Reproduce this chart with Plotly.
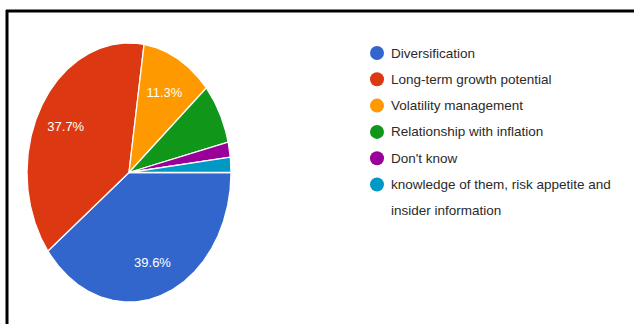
import math
import textwrap
import plotly.graph_objects as go

# Survey responses: why hold this asset class
categories = [
    "Diversification",
    "Long-term growth potential",
    "Volatility management",
    "Relationship with inflation",
    "Don't know",
    "knowledge of them, risk appetite and insider information",
]
counts = [21, 20, 6, 4, 1, 1]
colors = ["#3366CC", "#DC3912", "#FF9900", "#109618", "#990099", "#0099C6"]

W, H = 634, 324
total = sum(counts)

fig = go.Figure()

# Pie drawn as wedges on a unit-circle axis; the axis box gives it its oval shape.
cum = 0.0
for name, c, col in zip(categories, counts, colors):
    frac = c / total
    a0 = -2 * math.pi * cum
    a1 = -2 * math.pi * (cum + frac)
    n = max(8, int(abs(a1 - a0) / 0.01))
    xs, ys = [0.0], [0.0]
    for i in range(n + 1):
        a = a0 + (a1 - a0) * i / n
        xs.append(math.cos(a))
        ys.append(math.sin(a))
    xs.append(0.0)
    ys.append(0.0)
    fig.add_trace(go.Scatter(
        x=xs, y=ys, mode="lines", fill="toself", fillcolor=col,
        line=dict(color="white", width=1.3), hoverinfo="skip",
        showlegend=False, xaxis="x", yaxis="y",
    ))
    if frac >= 0.1:
        am = (a0 + a1) / 2
        fig.add_trace(go.Scatter(
            x=[0.72 * math.cos(am)], y=[0.72 * math.sin(am) - 0.02], mode="text",
            text=[f"{frac * 100:.1f}%"],
            textfont=dict(family="Liberation Sans, Arial", size=13, color="white"),
            hoverinfo="skip", showlegend=False, xaxis="x", yaxis="y",
        ))
    cum += frac

# Legend in pixel coordinates on an overlay axis
leg_x, leg_y0, leg_step = 377, 53, 26.3
row = 0
for name, col in zip(categories, colors):
    y = leg_y0 + row * leg_step
    fig.add_trace(go.Scatter(
        x=[leg_x], y=[y], mode="markers",
        marker=dict(size=14, color=col, line=dict(width=0)),
        hoverinfo="skip", showlegend=False, xaxis="x2", yaxis="y2",
    ))
    for line in textwrap.wrap(name, 36):
        fig.add_annotation(
            x=389, y=leg_y0 + row * leg_step, xref="x2", yref="y2",
            text=line, showarrow=False, xanchor="left", yanchor="middle",
            font=dict(family="Liberation Sans, Arial", size=13.5, color="#2a2a2a"),
        )
        row += 1

pad = 1.02
px0, px1, py0, py1 = 27, 231, 43, 302
cx, cy = (px0 + px1) / 2, (py0 + py1) / 2
hw, hh = (px1 - px0) / 2 * pad, (py1 - py0) / 2 * pad

fig.update_layout(
    width=W, height=H,
    margin=dict(l=0, r=0, t=0, b=0),
    paper_bgcolor="white", plot_bgcolor="rgba(0,0,0,0)",
    xaxis=dict(domain=[(cx - hw) / W, (cx + hw) / W], range=[-pad, pad],
               visible=False, fixedrange=True),
    yaxis=dict(domain=[(H - cy - hh) / H, (H - cy + hh) / H], range=[-pad, pad],
               visible=False, fixedrange=True),
    xaxis2=dict(domain=[0, 1], range=[0, W], visible=False, fixedrange=True),
    yaxis2=dict(domain=[0, 1], range=[H, 0], visible=False, fixedrange=True),
    shapes=[
        dict(type="line", xref="x2", yref="y2", x0=6, x1=W, y0=11, y1=11,
             line=dict(color="black", width=3)),
        dict(type="line", xref="x2", yref="y2", x0=7, x1=7, y0=10, y1=H,
             line=dict(color="black", width=3)),
    ],
)

fig.write_html("out.html")
